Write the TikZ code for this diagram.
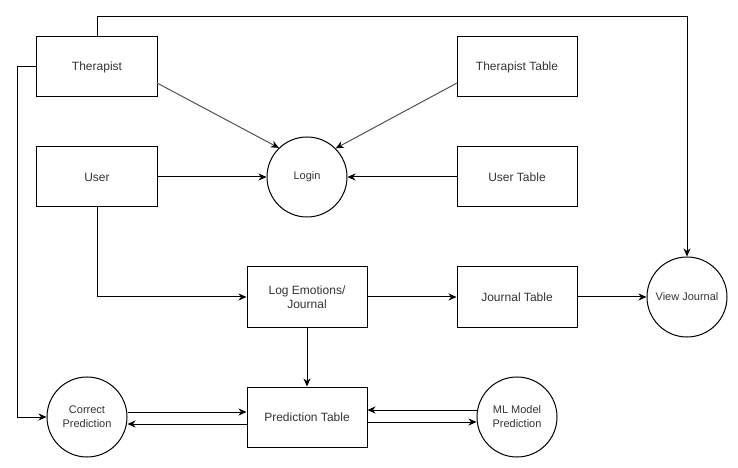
\documentclass[tikz,border=0pt]{standalone}
\usepackage{fontspec}
\setmainfont{Liberation Sans}
\usetikzlibrary{arrows.meta}
\begin{document}
\begin{tikzpicture}[x=1bp,y=-1bp,
  box/.style={draw=black,line width=1bp,minimum width=120bp,minimum height=60bp,inner sep=0pt,align=center,font=\fontsize{12bp}{14bp}\selectfont,text=black!80},
  proc/.style={draw=black,line width=1bp,circle,minimum size=80bp,inner sep=0pt,align=center,font=\fontsize{11bp}{14bp}\selectfont,text=black!80},
  conn/.style={line width=1bp,-{Stealth[length=8bp,width=7bp,inset=2.5bp,color=black]}},
  greyconn/.style={conn,draw=black!68}]
\useasboundingbox (0,0) rectangle (738,468);
\node[box] (ther) at (97,67) {Therapist};
\node[box] (thertab) at (517,67) {Therapist Table};
\node[box] (user) at (97,177) {User};
\node[box] (usertab) at (517,177) {User Table};
\node[proc] (login) at (307,177) {Login};
\node[box] (log) at (307,297) {Log Emotions/\\Journal};
\node[box] (jtab) at (517,297) {Journal Table};
\node[proc] (view) at (687,297) {View Journal};
\node[box] (pred) at (307,417) {Prediction Table};
\node[proc] (corr) at (87,417) {Correct\\Prediction};
\node[proc] (ml) at (517,417) {ML Model\\Prediction};
\coordinate (tE) at (157,83);
\coordinate (ttW) at (457,83);
\draw[greyconn] (tE) -- (login.134);
\draw[greyconn] (ttW) -- (login.45);
\draw[conn] (user.east) -- (login.west);
\draw[conn] (usertab.west) -- (login.east);
\draw[conn] (ther.north) -- (97,17) -- (687,17) -- (view.north);
\draw[conn] (ther.west) -- (17,67) -- (17,417) -- (corr.west);
\draw[conn] (user.south) -- (97,297) -- (log.west);
\draw[conn] (log.east) -- (jtab.west);
\draw[conn] (jtab.east) -- (view.west);
\draw[conn] (log.south) -- (pred.north);
\draw[conn] ([yshift=5bp]corr.east) -- ([yshift=5bp]pred.west);
\draw[conn] ([yshift=-7bp]pred.west) -- ([yshift=-7bp]corr.east);
\draw[conn] ([yshift=7bp]ml.west) -- ([yshift=7bp]pred.east);
\draw[conn] ([yshift=-5bp]pred.east) -- ([yshift=-5bp]ml.west);
\end{tikzpicture}
\end{document}
